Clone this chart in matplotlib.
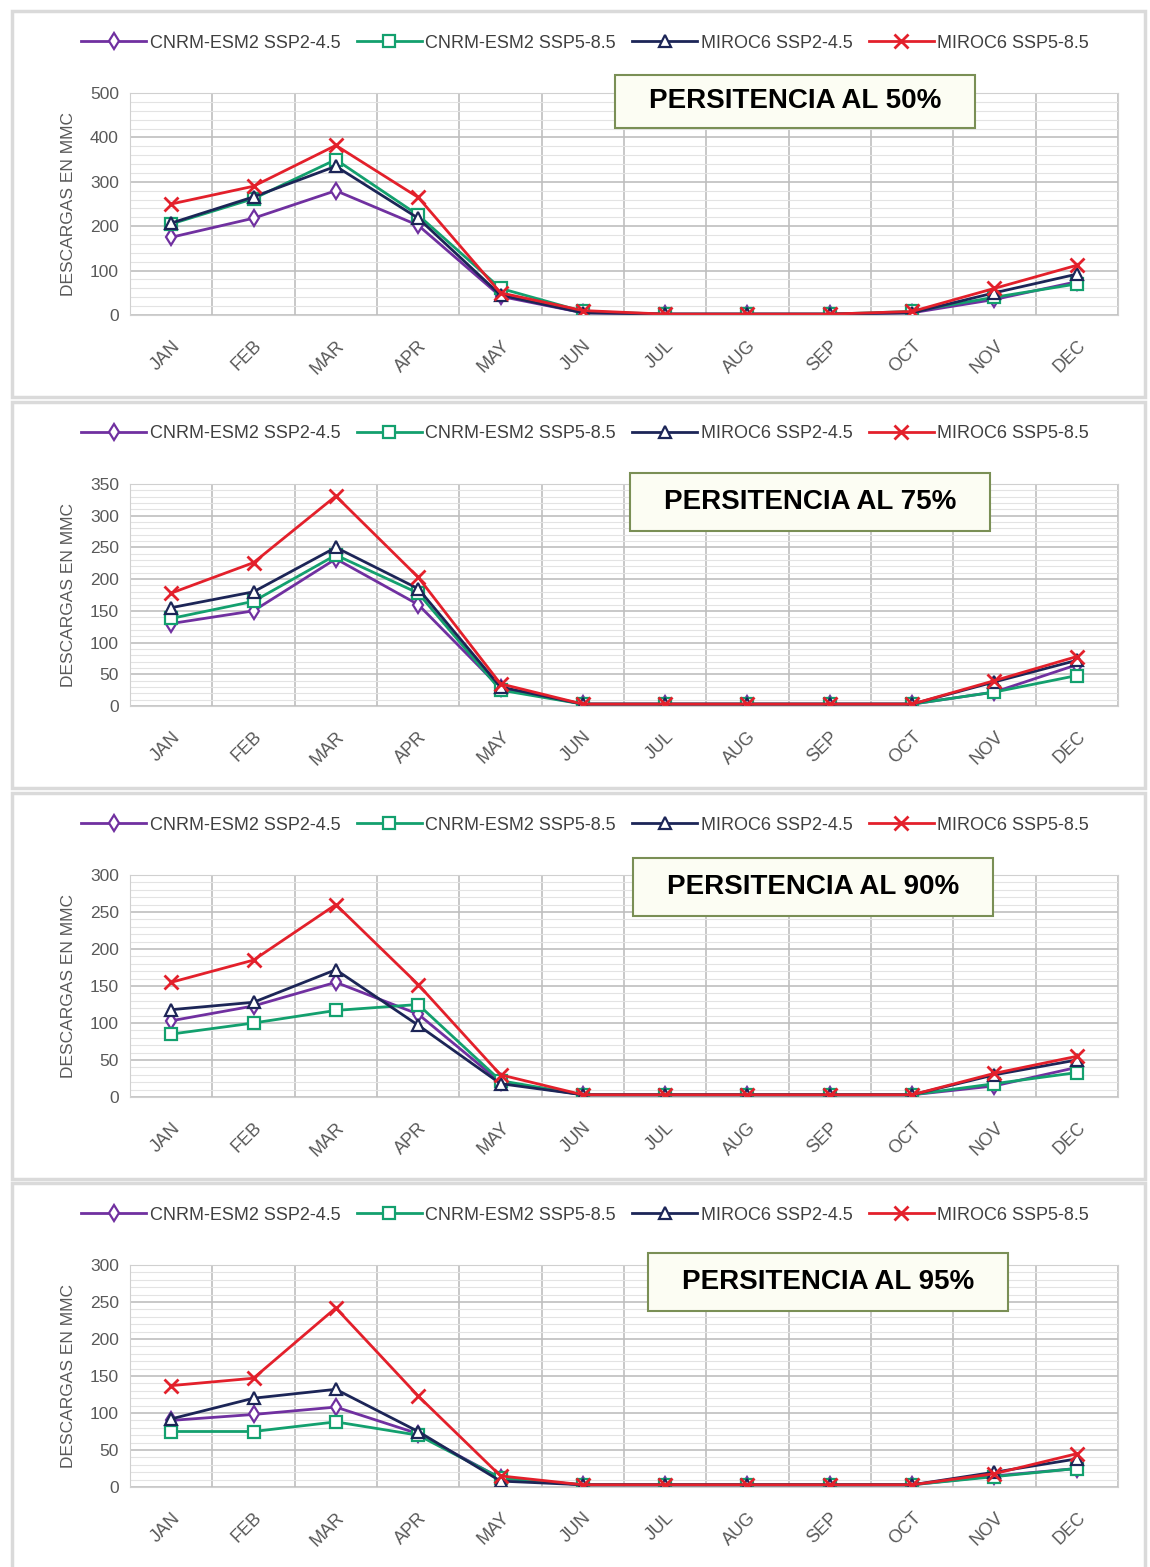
import matplotlib
matplotlib.use("Agg")
import matplotlib.pyplot as plt
from matplotlib.patches import Rectangle
from matplotlib.ticker import MultipleLocator, FixedLocator

plt.rcParams['font.family'] = ['Liberation Sans Narrow', 'Liberation Sans', 'DejaVu Sans']

months = ['JAN', 'FEB', 'MAR', 'APR', 'MAY', 'JUN', 'JUL', 'AUG', 'SEP', 'OCT', 'NOV', 'DEC']
series_names = ['CNRM-ESM2 SSP2-4.5', 'CNRM-ESM2 SSP5-8.5', 'MIROC6 SSP2-4.5', 'MIROC6 SSP5-8.5']
titles = ['PERSITENCIA AL 50%', 'PERSITENCIA AL 75%', 'PERSITENCIA AL 90%', 'PERSITENCIA AL 95%']

# persistence 50%
p50_cnrm_245 = [175, 218, 280, 202, 42, 5, 2, 2, 2, 5, 35, 75]
p50_cnrm_585 = [205, 262, 350, 225, 60, 8, 2, 2, 2, 8, 40, 70]
p50_miroc_245 = [207, 266, 335, 218, 45, 5, 2, 2, 2, 5, 50, 92]
p50_miroc_585 = [250, 290, 382, 265, 50, 10, 2, 2, 2, 8, 60, 112]

# persistence 75%
p75_cnrm_245 = [130, 150, 232, 160, 28, 3, 3, 3, 3, 3, 22, 65]
p75_cnrm_585 = [138, 165, 238, 178, 25, 3, 3, 3, 3, 3, 22, 48]
p75_miroc_245 = [155, 180, 250, 185, 30, 3, 3, 3, 3, 3, 38, 72]
p75_miroc_585 = [178, 226, 331, 203, 35, 3, 3, 3, 3, 3, 40, 78]

# persistence 90%
p90_cnrm_245 = [103, 123, 155, 112, 20, 3, 3, 3, 3, 3, 15, 40]
p90_cnrm_585 = [85, 100, 117, 125, 22, 3, 3, 3, 3, 3, 18, 33]
p90_miroc_245 = [118, 128, 172, 97, 18, 3, 3, 3, 3, 3, 30, 50]
p90_miroc_585 = [155, 185, 260, 152, 30, 3, 3, 3, 3, 3, 32, 55]

# persistence 95%
p95_cnrm_245 = [90, 98, 108, 72, 12, 3, 3, 3, 3, 3, 15, 25]
p95_cnrm_585 = [75, 75, 88, 70, 12, 3, 3, 3, 3, 3, 14, 25]
p95_miroc_245 = [92, 120, 132, 75, 8, 3, 3, 3, 3, 3, 20, 38]
p95_miroc_585 = [137, 147, 242, 123, 15, 3, 3, 3, 3, 3, 18, 45]

panels = [
    [p50_cnrm_245, p50_cnrm_585, p50_miroc_245, p50_miroc_585],
    [p75_cnrm_245, p75_cnrm_585, p75_miroc_245, p75_miroc_585],
    [p90_cnrm_245, p90_cnrm_585, p90_miroc_245, p90_miroc_585],
    [p95_cnrm_245, p95_cnrm_585, p95_miroc_245, p95_miroc_585],
]
y_max = [500, 350, 300, 300]
y_major = [100, 50, 50, 50]
y_minor = [20, 10, 10, 10]

colors = ['#7030A0', '#13A06E', '#1C2557', '#E3202B']
markers = ['d', 's', '^', 'x']

W, H = 1150, 1567
fig = plt.figure(figsize=(W / 100, H / 100), dpi=100)

panel_tops = [10, 401, 792, 1182]
box_pos = [(615, 75, 360, 53), (630, 473, 360, 58), (633, 858, 360, 58), (648, 1253, 360, 58)]

for i, top in enumerate(panel_tops):
    # panel frame
    fig.patches.append(Rectangle((12 / W, 1 - (top + 387) / H), 1133 / W, 386 / H,
                                 transform=fig.transFigure, fill=False,
                                 edgecolor='#DADADA', linewidth=2.5))

    ax = fig.add_axes([130 / W, 1 - (top + 305) / H, 988 / W, 222 / H])
    x = list(range(len(months)))
    for vals, name, c, m in zip(panels[i], series_names, colors, markers):
        if m == 'x':
            ax.plot(x, vals, color=c, lw=2, marker=m, ms=10, mew=2, label=name)
        else:
            ax.plot(x, vals, color=c, lw=2, marker=m, ms=8, mew=1.6,
                    markerfacecolor='white', markeredgecolor=c, label=name)

    ax.set_xlim(-0.5, 11.5)
    ax.set_ylim(0, y_max[i])
    ax.yaxis.set_major_locator(MultipleLocator(y_major[i]))
    ax.yaxis.set_minor_locator(MultipleLocator(y_minor[i]))
    ax.xaxis.set_major_locator(FixedLocator(x))
    ax.xaxis.set_minor_locator(FixedLocator([k + 0.5 for k in range(-1, 12)]))
    ax.set_xticks(x)
    ax.set_xticklabels(months, rotation=45, ha='right', rotation_mode='anchor',
                       color='#595959', fontsize=13)
    ax.tick_params(axis='x', which='both', length=0, pad=16)
    ax.tick_params(axis='y', which='both', length=0, labelcolor='#595959', labelsize=12.5, pad=8)

    ax.grid(True, axis='y', which='major', color='#BFBFBF', lw=1.2)
    ax.grid(True, axis='y', which='minor', color='#E3E3E3', lw=0.8)
    ax.grid(True, axis='x', which='minor', color='#BFBFBF', lw=1.2)
    ax.grid(False, axis='x', which='major')
    ax.set_axisbelow(True)
    for s in ax.spines.values():
        s.set_color('#D0D0D0')

    ax.set_ylabel('DESCARGAS EN MMC', color='#595959', fontsize=12.5, labelpad=10)

    ax.legend(loc='center', bbox_to_anchor=(585 / W, 1 - (top + 33) / H),
              bbox_transform=fig.transFigure, ncol=4, frameon=False,
              fontsize=13, handlelength=3.6, columnspacing=0.9, handletextpad=0.2,
              labelcolor='#404040')

    # title box
    bx, by, bw, bh = box_pos[i]
    fig.patches.append(Rectangle((bx / W, 1 - (by + bh) / H), bw / W, bh / H,
                                 transform=fig.transFigure, facecolor='#FCFDF3',
                                 edgecolor='#7A8F55', linewidth=1.5, zorder=5))
    fig.text((bx + bw / 2) / W, 1 - (by + bh / 2) / H, titles[i],
             ha='center', va='center', fontsize=20, fontweight='bold',
             family=['Liberation Sans', 'DejaVu Sans'], zorder=6)

fig.savefig('out.png', dpi=100, facecolor='white')
